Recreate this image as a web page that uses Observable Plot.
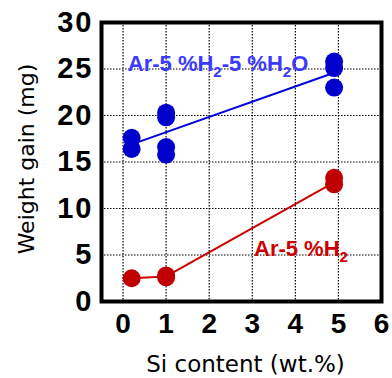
<!DOCTYPE html>
<html><head><meta charset="utf-8">
<script src="https://cdn.jsdelivr.net/npm/d3@7"></script>
<script src="https://cdn.jsdelivr.net/npm/@observablehq/plot@0.6"></script>
<style>
body{margin:0;background:#fff;}
svg{font-family:"Liberation Sans",Arial,sans-serif;}
g[aria-label="y-axis tick label"] text{letter-spacing:2px;}
</style></head><body><div id="chart"></div>
<script>
const xTicks = [0,1,2,3,4,5,6];
const yTicks = [0,5,10,15,20,25,30];
// Ar-5%H2-5%H2O
const blueX = [0.2,0.2,1,1,1,1,4.9,4.9,4.9];
const blueY = [17.6,16.4,20.3,19.8,16.6,15.8,25.8,25.1,23.0];
const blueLineX = [0.2,4.9];
const blueLineY = [16.9,24.6];
// Ar-5%H2
const redX = [0.2,1,1,4.9,4.9];
const redY = [2.5,2.6,2.8,13.3,12.6];
const redLineX = [0.2,1,4.9];
const redLineY = [2.5,2.7,12.8];
const labelText = ["Ar-5 %H2-5 %H2O","Ar-5 %H2"];
const labelX = [0.11,3.04];
const labelY = [24.8,4.9];
const labelColor = ["#3a3aff","#cc0000"];

const blue = blueX.map((x,i)=>({x,y:blueY[i]}));
const blueL = blueLineX.map((x,i)=>({x,y:blueLineY[i]}));
const red = redX.map((x,i)=>({x,y:redY[i]}));
const redL = redLineX.map((x,i)=>({x,y:redLineY[i]}));
const labels = labelText.map((t,i)=>({t,x:labelX[i],y:labelY[i],c:labelColor[i]}));

const plot = Plot.plot({
  width: 392, height: 378,
  marginLeft: 101, marginRight: 11, marginTop: 22, marginBottom: 77,
  x: {domain:[-0.5,6]},
  y: {domain:[0,30]},
  marks: [
    Plot.gridX(xTicks, {stroke:"black", strokeOpacity:1, strokeWidth:1.2, strokeDasharray:"1.5,1.5"}),
    Plot.gridY(yTicks, {stroke:"black", strokeOpacity:1, strokeWidth:1.2, strokeDasharray:"1.5,1.5"}),
    Plot.line(blueL, {x:"x", y:"y", stroke:"#0000dd", strokeWidth:2}),
    Plot.line(redL, {x:"x", y:"y", stroke:"#cc0000", strokeWidth:2}),
    Plot.dot(blue, {x:"x", y:"y", r:9, fill:"#0000cc"}),
    Plot.dot(red, {x:"x", y:"y", r:9, fill:"#c00000"}),
    Plot.frame({stroke:"black", strokeWidth:4}),
    Plot.axisX({ticks:xTicks, tickFormat:d3.format("d"), tickSize:0, tickPadding:12, fontSize:28, fontWeight:"bold", label:null}),
    Plot.axisY({ticks:yTicks, tickFormat:d3.format("d"), tickSize:0, tickPadding:8, fontSize:29, fontWeight:"bold", label:null}),
    Plot.text(labels, {x:"x", y:"y", text:"t", fill:"c", textAnchor:"start", lineAnchor:"bottom", fontSize:22, fontWeight:"bold"}),
    Plot.text(["Si content (wt.%)"], {frameAnchor:"bottom", textAnchor:"middle", dy:70, dx:4, fontSize:23, fontFamily:"DejaVu Sans"}),
    Plot.text(["Weight gain (mg)"], {frameAnchor:"left", textAnchor:"middle", dx:-75, dy:-3, rotate:-90, fontSize:22, fontFamily:"DejaVu Sans"})
  ]
});
// subscripts
d3.select(plot).selectAll("text").each(function(){
  const t = d3.select(this);
  const s = t.text();
  if (s.startsWith("Ar-5")) {
    t.text("");
    const parts = s.split("H2");
    parts.forEach((p,i)=>{
      if (i>0) {
        t.append("tspan").text("H");
        t.append("tspan").attr("font-size","15").attr("dy","6").text("2");
        if (p) t.append("tspan").attr("dy","-6").text(p);
      } else {
        t.append("tspan").text(p);
      }
    });
  }
});
document.getElementById("chart").append(plot);
</script></body></html>
